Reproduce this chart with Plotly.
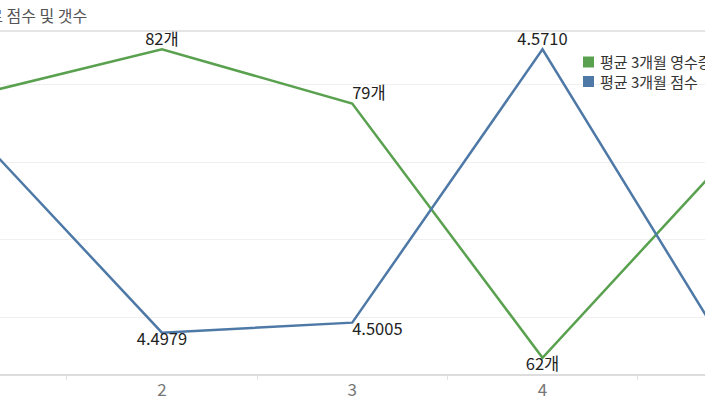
import plotly.graph_objects as go

categories = ["1", "2", "3", "4", "5"]
count_avg = [79.3, 82.3, 78.8, 62.4, 75.7]
count_labels = ["", "82개", "79개", "62개", ""]
score_avg = [4.5504, 4.4979, 4.5005, 4.5710, 4.4911]
score_labels = ["", "4.4979", "4.5005", "4.5710", ""]
series_names = ["평균 3개월 영수증 갯수", "평균 3개월 점수"]
title_text = "그룹별로 점수 및 갯수"

GREEN = "#59A14F"
BLUE = "#4E79A7"
FONT = "Noto Sans CJK KR"

W, H, T, B = 705, 403, 31, 29
PH = H - T - B


def px(x):
    return x / W


def py(y):
    return (H - B - y) / PH


fig = go.Figure()
fig.add_trace(go.Scatter(
    x=categories, y=count_avg, mode="lines+text", text=count_labels, name=series_names[0],
    textposition=["top center", "top center", "top right", "bottom center", "top center"],
    textfont=dict(size=16.5, color="#222", family=FONT),
    line=dict(color=GREEN, width=2.5), yaxis="y", showlegend=False, cliponaxis=True,
))
fig.add_trace(go.Scatter(
    x=categories, y=score_avg, mode="lines+text", text=score_labels, name=series_names[1],
    textposition=["top center", "bottom center", "bottom right", "top center", "bottom center"],
    textfont=dict(size=16.5, color="#222", family=FONT),
    line=dict(color=BLUE, width=2.5), yaxis="y2", showlegend=False, cliponaxis=True,
))

shapes = [dict(type="line", xref="paper", yref="paper", x0=0, x1=1, y0=1, y1=1,
               line=dict(color="#dddddd", width=1.5))]
annotations = [dict(text=title_text, xref="paper", yref="paper", x=px(89), y=py(15),
                    xanchor="right", yanchor="middle", showarrow=False,
                    font=dict(size=16, color="#555", family=FONT))]
# custom legend (square swatches + one text block)
row_gap = 19.5
for i, col in enumerate([GREEN, BLUE]):
    cy = 62 + row_gap * i
    shapes.append(dict(type="rect", xref="paper", yref="paper",
                       x0=px(583), x1=px(594), y0=py(cy - 5.5), y1=py(cy + 5.5),
                       fillcolor=col, line=dict(width=0)))
annotations.append(dict(text="<br>".join(series_names), xref="paper", yref="paper",
                        x=px(598), y=py(62 + row_gap / 2), xanchor="left", yanchor="middle",
                        align="left", showarrow=False,
                        font=dict(size=15, color="#333", family=FONT)))

fig.update_layout(
    width=W, height=H,
    margin=dict(l=0, r=0, t=T, b=B, autoexpand=False),
    paper_bgcolor="white", plot_bgcolor="white",
    font=dict(family=FONT, color="#333"),
    showlegend=False,
    xaxis=dict(type="category", range=[0.149, 3.854], showgrid=False,
               showline=True, linecolor="#dddddd", linewidth=1.5,
               ticks="outside", tickson="boundaries", ticklen=4, tickcolor="#e3e3e3",
               tickfont=dict(size=17, color="#777", family=FONT), zeroline=False),
    yaxis=dict(range=[61.35, 83.48], dtick=5, tick0=0, showgrid=True, gridcolor="#f0f0f0",
               showticklabels=False, zeroline=False, showline=False),
    yaxis2=dict(range=[4.48725, 4.57572], overlaying="y", side="right", showgrid=False,
                showticklabels=False, zeroline=False, showline=False),
    shapes=shapes,
    annotations=annotations,
)

fig.write_html("out.html", config={"displayModeBar": False},
               post_script="document.body.style.margin='0';")
